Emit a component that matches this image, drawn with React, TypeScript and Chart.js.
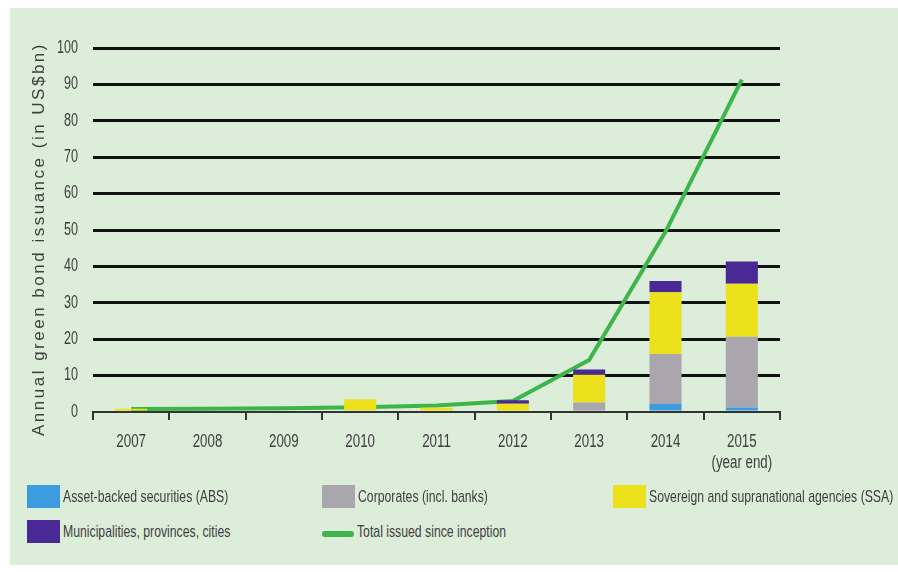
import React, { useEffect, useRef } from "react";
import { Chart, registerables } from "chart.js";

Chart.register(...registerables);

// ---------- data ----------
const years: (string | string[])[] = ["2007", "2008", "2009", "2010", "2011", "2012", "2013", "2014", ["2015", "(year end)"]];
const absValues = [0, 0, 0, 0, 0, 0, 0, 2.2, 1.25];
const corporateValues = [0, 0, 0, 0, 0, 0, 2.6, 13.7, 19.4];
const ssaValues = [0.9, 0, 0, 3.5, 1.2, 2.3, 7.6, 17.0, 14.6];
const municipalValues = [0, 0, 0, 0, 0, 0.9, 1.5, 3.1, 6.1];
const totalSinceInception = [0.8, 0.9, 1.0, 1.3, 1.8, 3.0, 14.3, 49.5, 91.3];
const seriesNames = [
  "Asset-backed securities (ABS)",
  "Corporates (incl. banks)",
  "Sovereign and supranational agencies (SSA)",
  "Municipalities, provinces, cities",
  "Total issued since inception",
];
const yAxisTitle = "Annual green bond issuance (in US$bn)";
const yMin = 0;
const yMax = 100;
const yStep = 10;

// ---------- styles ----------
const COLORS = ["#3d9be0", "#aaa6ae", "#ebe11c", "#4a2896", "#3db54a"];
const BG = "#dcedd9";
const TEXT = "#3e3e3e";
const SANS = "'Liberation Sans', 'Arial', sans-serif";

const CANVAS_W = 888;
const CANVAS_H = 480;
const AREA_LEFT = 83;
const AREA_RIGHT = 770;
const AREA_TOP = 40;
const AREA_BOTTOM = 404;

// draws tick labels and axis title in a condensed style, placed by the chart's scales
const condensedText = {
  id: "condensedText",
  afterDraw(chart: any) {
    const ctx: CanvasRenderingContext2D = chart.ctx;
    const xs = chart.scales.x;
    const ys = chart.scales.y;
    ctx.save();
    ctx.fillStyle = TEXT;

    // y tick labels
    ctx.font = `17.5px ${SANS}`;
    ctx.textAlign = "right";
    ctx.textBaseline = "middle";
    ys.ticks.forEach((t: any) => {
      const y = ys.getPixelForValue(t.value);
      ctx.save();
      ctx.translate(xs.left - 15, y);
      ctx.scale(0.72, 1);
      ctx.fillText(String(t.value), 0, 0);
      ctx.restore();
    });

    // x tick labels
    ctx.font = `18px ${SANS}`;
    ctx.textAlign = "center";
    const labels = chart.data.labels as (string | string[])[];
    labels.forEach((lab, i) => {
      const x = xs.getPixelForTick(i);
      const lines = Array.isArray(lab) ? lab : [lab];
      lines.forEach((ln, j) => {
        ctx.save();
        ctx.translate(x, ys.bottom + 30 + j * 21.5);
        ctx.scale(0.74, 1);
        ctx.fillText(ln, 0, 0);
        ctx.restore();
      });
    });

    // y axis title
    ctx.font = `17px ${SANS}`;
    (ctx as any).letterSpacing = "2.5px";
    ctx.translate(29, (ys.top + ys.bottom) / 2 + 9);
    ctx.rotate(-Math.PI / 2);
    ctx.textAlign = "center";
    ctx.fillText(yAxisTitle, 0, 0);
    (ctx as any).letterSpacing = "0px";
    ctx.restore();
  },
};

export default function App() {
  const canvasRef = useRef<HTMLCanvasElement | null>(null);

  useEffect(() => {
    if (!canvasRef.current) return;
    const barData = [absValues, corporateValues, ssaValues, municipalValues];
    const chart = new Chart(canvasRef.current, {
      type: "bar",
      data: {
        labels: years as any,
        datasets: [
          ...barData.map((vals, i) => ({
            type: "bar" as const,
            label: seriesNames[i],
            data: vals,
            backgroundColor: COLORS[i],
            borderWidth: 0,
            stack: "annual",
            order: 0,
            barPercentage: 0.42,
            categoryPercentage: 1,
          })),
          {
            type: "line" as const,
            label: seriesNames[4],
            data: totalSinceInception,
            borderColor: COLORS[4],
            backgroundColor: COLORS[4],
            borderWidth: 4,
            pointRadius: 0,
            tension: 0,
            stack: "total",
            order: 1,
          } as any,
        ],
      },
      options: {
        responsive: false,
        animation: false,
        devicePixelRatio: 1,
        layout: {
          padding: { left: 0, top: AREA_TOP, right: CANVAS_W - AREA_RIGHT, bottom: 0 },
        },
        plugins: {
          legend: { display: false },
          tooltip: { enabled: false },
          title: { display: false },
        },
        scales: {
          x: {
            stacked: true,
            offset: true,
            grid: {
              display: true,
              offset: true,
              drawOnChartArea: false,
              drawTicks: true,
              tickLength: 8,
              color: "#333",
              lineWidth: 2,
            },
            border: { display: true, color: "#333", width: 2 },
            ticks: { display: false, autoSkip: false },
            afterFit: (s: any) => {
              s.height = CANVAS_H - AREA_BOTTOM;
            },
          },
          y: {
            stacked: true,
            min: yMin,
            max: yMax,
            border: { display: false },
            grid: {
              drawTicks: false,
              lineWidth: 3,
              color: (ctx: any) => (ctx.tick && ctx.tick.value === 0 ? "rgba(0,0,0,0)" : "#111"),
            },
            ticks: { display: false, stepSize: yStep },
            afterFit: (s: any) => {
              s.width = AREA_LEFT;
            },
          },
        },
      },
      plugins: [condensedText],
    });
    return () => chart.destroy();
  }, []);

  const legendRows = [
    [0, 1, 2],
    [3, 4],
  ];
  const colLeft = [17, 312, 603];
  const rowTop = [477, 512];

  return (
    <div
      style={{
        position: "fixed",
        left: 10,
        top: 8,
        width: CANVAS_W,
        height: 557,
        background: BG,
        overflow: "hidden",
      }}
    >
      <canvas
        ref={canvasRef}
        width={CANVAS_W}
        height={CANVAS_H}
        style={{ position: "absolute", left: 0, top: 0, width: CANVAS_W, height: CANVAS_H }}
      />
      {legendRows.map((row, r) =>
        row.map((idx, c) => (
          <div
            key={idx}
            style={{
              position: "absolute",
              left: colLeft[c],
              top: rowTop[r],
              height: 23,
              display: "flex",
              alignItems: "center",
              fontFamily: SANS,
              fontSize: 17,
              color: TEXT,
              whiteSpace: "nowrap",
            }}
          >
            {idx === 4 ? (
              <div style={{ width: 32, height: 23, display: "flex", alignItems: "center" }}>
                <div style={{ width: 32, height: 6, marginTop: 4, borderRadius: 3, background: COLORS[idx] }} />
              </div>
            ) : (
              <div style={{ width: 33, height: 23, background: COLORS[idx] }} />
            )}
            <span
              style={{
                marginLeft: 3,
                display: "inline-block",
                transform: "scaleX(0.72)",
                transformOrigin: "left center",
              }}
            >
              {seriesNames[idx]}
            </span>
          </div>
        ))
      )}
    </div>
  );
}
